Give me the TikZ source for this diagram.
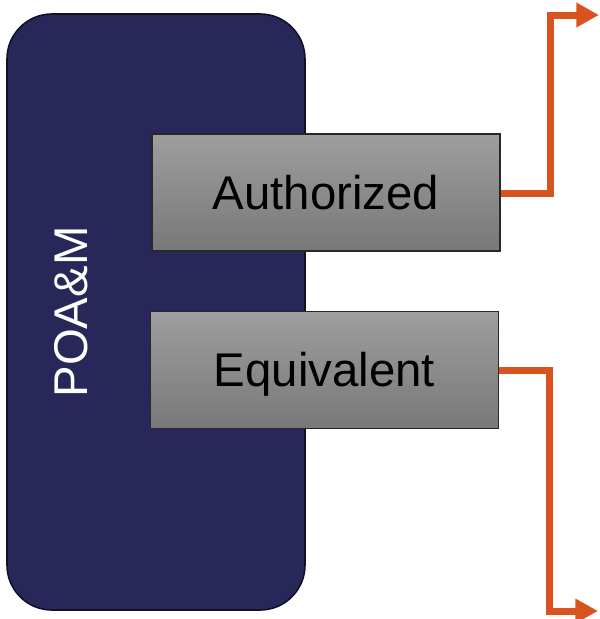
\documentclass[tikz,border=0pt]{standalone}
\usepackage{fontspec}
\setmainfont{Liberation Sans}
\usetikzlibrary{arrows.meta}
\definecolor{navy}{RGB}{39,39,90}
\definecolor{navyedge}{RGB}{16,16,40}
\definecolor{boxtop}{RGB}{158,158,158}
\definecolor{boxbot}{RGB}{120,120,120}
\definecolor{boxedge}{RGB}{40,40,40}
\definecolor{flow}{RGB}{217,83,30}
\tikzset{
  panel/.style={draw=navyedge, line width=1.2pt, fill=navy, rounded corners=33.75pt,
    minimum width=223.5pt, minimum height=447pt, inner sep=0pt},
  panellabel/.style={text=white, font=\fontsize{35.5}{40}\selectfont, rotate=90,
    inner sep=0pt, text height=25.4pt, text depth=0pt},
  itembox/.style={draw=boxedge, line width=0.9pt, top color=boxtop, bottom color=boxbot,
    minimum width=261pt, minimum height=87.75pt, inner sep=0pt,
    font=\fontsize{35.5}{40}\selectfont, text height=25.4pt, text depth=0pt},
  flowline/.style={draw=flow, line width=5.25pt, miter limit=10,
    -{Triangle[length=17pt, width=17.5pt]}},
}
\begin{document}
\begin{tikzpicture}[x=0.75pt, y=-0.75pt]
  \useasboundingbox (0,0) rectangle (600,619);
  % left panel
  \node[panel] (poa) at (156,312) {};
  \node[panellabel] (poalabel) at (70.5,312) {POA\&M};
  % item boxes
  \node[itembox] (auth) at (326,192.5) {Authorized};
  \node[itembox] (equiv) at (324.5,370) {Equivalent};
  % outgoing connectors
  \coordinate (upend) at (599,15);
  \coordinate (downend) at (598,611);
  \draw[flowline] (auth.east |- 0,193) -- (550,193) -- (550,15) -- (upend);
  \draw[flowline] (equiv.east |- 0,370) -- (549,370) -- (549,611) -- (downend);
\end{tikzpicture}
\end{document}
